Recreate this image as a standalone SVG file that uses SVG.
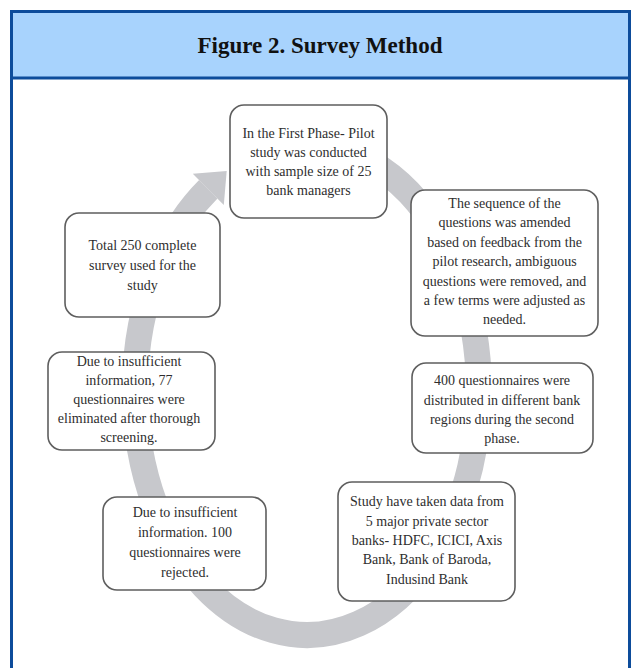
<svg xmlns="http://www.w3.org/2000/svg" width="632" height="668" viewBox="0 0 632 668">
<style>
.box{fill:#ffffff;stroke:#5e5e5e;stroke-width:1.6}
.t{font-family:"Liberation Serif","Times New Roman",serif;font-size:14px;fill:#2e2e2e;text-anchor:middle}
.title{font-family:"Liberation Serif","Times New Roman",serif;font-size:23px;font-weight:bold;fill:#111;text-anchor:middle}
.ring{fill:none;stroke:#c7c8cc;stroke-width:26}
</style>
<rect x="0" y="0" width="632" height="668" fill="#ffffff"/>
<rect x="11.5" y="11.5" width="618" height="670" fill="#ffffff" stroke="#0d4c9b" stroke-width="3"/>
<rect x="13" y="13" width="615" height="64" fill="#a8d3fd"/>
<line x1="11.5" y1="78" x2="629.5" y2="78" stroke="#0d4c9b" stroke-width="3"/>
<text class="title" x="320" y="53">Figure 2. Survey Method</text>
<g id="connectors">
<path class="ring" d="M 307 145 A 172 245 0 1 1 208.3 189.3"/>
<polygon points="226.7,170.9 223.8,204.9 192.8,173.7" fill="#c7c8cc"/>
</g>
<g id="node1">
<rect class="box" x="230" y="105" width="157" height="113" rx="14"/>
<text class="t" x="308.5" y="138">In the First Phase- Pilot</text>
<text class="t" x="308.5" y="157">study was conducted</text>
<text class="t" x="308.5" y="176">with sample size of 25</text>
<text class="t" x="308.5" y="195">bank managers</text>
</g>
<g id="node2">
<rect class="box" x="411" y="190" width="187" height="146" rx="14"/>
<text class="t" x="504.5" y="208">The sequence of the</text>
<text class="t" x="504.5" y="227">questions was amended</text>
<text class="t" x="504.5" y="247">based on feedback from the</text>
<text class="t" x="504.5" y="266">pilot research, ambiguous</text>
<text class="t" x="504.5" y="286">questions were removed, and</text>
<text class="t" x="504.5" y="305">a few terms were adjusted as</text>
<text class="t" x="504.5" y="324">needed.</text>
</g>
<g id="node3">
<rect class="box" x="412" y="363" width="181" height="90" rx="14"/>
<text class="t" x="502" y="385">400 questionnaires were</text>
<text class="t" x="502" y="405">distributed in different bank</text>
<text class="t" x="502" y="424">regions during the second</text>
<text class="t" x="502" y="443">phase.</text>
</g>
<g id="node4">
<rect class="box" x="338" y="482" width="177" height="119" rx="14"/>
<text class="t" x="427" y="506">Study have taken data from</text>
<text class="t" x="427" y="526">5 major private sector</text>
<text class="t" x="427" y="545">banks- HDFC, ICICI, Axis</text>
<text class="t" x="427" y="564">Bank, Bank of Baroda,</text>
<text class="t" x="427" y="584">Indusind Bank</text>
</g>
<g id="node5">
<rect class="box" x="103" y="497" width="163" height="93" rx="14"/>
<text class="t" x="185" y="517">Due to insufficient</text>
<text class="t" x="185" y="537">information. 100</text>
<text class="t" x="185" y="557">questionnaires were</text>
<text class="t" x="185" y="577">rejected.</text>
</g>
<g id="node6">
<rect class="box" x="48" y="352" width="167" height="98" rx="14"/>
<text class="t" x="129" y="366">Due to insufficient</text>
<text class="t" x="129" y="385">information, 77</text>
<text class="t" x="129" y="404">questionnaires were</text>
<text class="t" x="129" y="423">eliminated after thorough</text>
<text class="t" x="129" y="442">screening.</text>
</g>
<g id="node7">
<rect class="box" x="65" y="213" width="155" height="104" rx="14"/>
<text class="t" x="142.5" y="250">Total 250 complete</text>
<text class="t" x="142.5" y="270">survey used for the</text>
<text class="t" x="142.5" y="290">study</text>
</g>
</svg>
